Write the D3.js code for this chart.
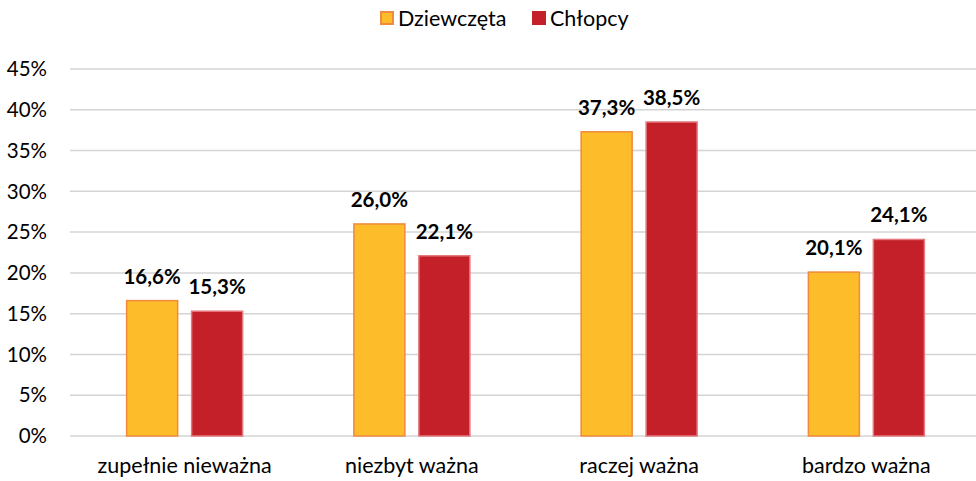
<!DOCTYPE html>
<html>
<head>
<meta charset="utf-8">
<script src="https://cdn.jsdelivr.net/npm/d3@7"></script>
<style>
  body { margin: 0; background: #fff; }
  text { font-family: Lato, "Open Sans", sans-serif; fill: #000; }
</style>
</head>
<body>
<div id="chart"></div>
<script>
var categories = ["zupełnie nieważna", "niezbyt ważna", "raczej ważna", "bardzo ważna"];
var seriesNames = ["Dziewczęta", "Chłopcy"];
var dziewczeta = [16.6, 26.0, 37.3, 20.1];
var chlopcy = [15.3, 22.1, 38.5, 24.1];
var yTicks = [0, 5, 10, 15, 20, 25, 30, 35, 40, 45];

var fills = ["#FDBD2B", "#C3202A"];
var strokes = ["#F08A3C", "#E5777E"];

var width = 976, height = 481;
var svg = d3.select("#chart").append("svg")
    .attr("width", width)
    .attr("height", height);

var x = d3.scaleBand().domain(categories).range([71, 980]);
var y = d3.scaleLinear().domain([0, 45]).range([436, 69]);
var xs = d3.scaleBand().domain(seriesNames).range([0, 116]).paddingInner(0.215);

// gridlines
svg.append("g").selectAll("line")
    .data(yTicks)
    .enter().append("line")
    .attr("x1", 70).attr("x2", 976)
    .attr("y1", function(d) { return y(d) }).attr("y2", function(d) { return y(d) })
    .attr("stroke", "#d4d4d4").attr("stroke-width", 1.5);

// y axis labels
svg.append("g").selectAll("text")
    .data(yTicks)
    .enter().append("text")
    .attr("x", 47)
    .attr("y", function(d) { return y(d) })
    .attr("dy", "0.35em")
    .attr("text-anchor", "end")
    .style("font-size", "20.5px")
    .text(function(d) { return d + "%" });

var data = seriesNames.map(function(s, i) {
    var vals = i === 0 ? dziewczeta : chlopcy;
    return categories.map(function(c, j) { return { cat: c, series: s, idx: i, value: vals[j] } });
});

var groups = svg.append("g").selectAll("g")
    .data(data)
    .enter().append("g");

groups.selectAll("rect")
    .data(function(d) { return d })
    .enter().append("rect")
    .attr("x", function(d) { return x(d.cat) + x.bandwidth() / 2 - 58 + xs(d.series) })
    .attr("y", function(d) { return y(d.value) })
    .attr("width", xs.bandwidth())
    .attr("height", function(d) { return y(0) - y(d.value) })
    .attr("fill", function(d) { return fills[d.idx] })
    .attr("stroke", function(d) { return strokes[d.idx] })
    .attr("stroke-width", 1.5);

groups.selectAll("text")
    .data(function(d) { return d })
    .enter().append("text")
    .attr("x", function(d) { return x(d.cat) + x.bandwidth() / 2 - 58 + xs(d.series) + xs.bandwidth() / 2 })
    .attr("y", function(d) { return y(d.value) - 17 })
    .attr("text-anchor", "middle")
    .style("font-size", "20.5px")
    .style("font-weight", "bold")
    .text(function(d) { return d.value.toFixed(1).replace(".", ",") + "%" });

// category labels
svg.append("g").selectAll("text")
    .data(categories)
    .enter().append("text")
    .attr("x", function(d) { return x(d) + x.bandwidth() / 2 })
    .attr("y", 473)
    .attr("text-anchor", "middle")
    .style("font-size", "21.5px")
    .text(function(d) { return d });

// legend
var legendX = [380, 532];
var legend = svg.append("g").selectAll("g")
    .data(seriesNames)
    .enter().append("g")
    .attr("transform", function(d, i) { return "translate(" + legendX[i] + ",11)" });

legend.append("rect")
    .attr("x", 1).attr("y", 1)
    .attr("width", 12).attr("height", 12)
    .attr("fill", function(d, i) { return fills[i] })
    .attr("stroke", function(d, i) { return i === 0 ? strokes[0] : fills[1] })
    .attr("stroke-width", 2);

legend.append("text")
    .attr("x", 18)
    .attr("y", 7)
    .attr("dy", "0.35em")
    .style("font-size", "21.5px")
    .text(function(d) { return d });
</script>
</body>
</html>
